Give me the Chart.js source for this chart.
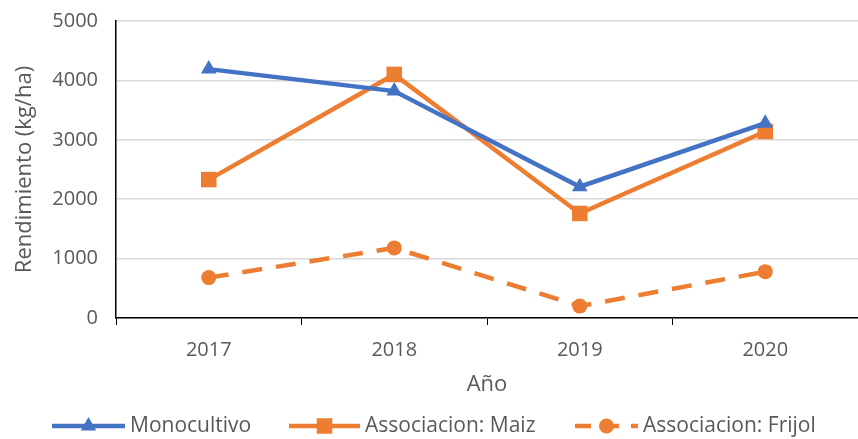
<!DOCTYPE html>
<html>
<head>
<meta charset="utf-8">
<script src="https://cdn.jsdelivr.net/npm/chart.js@4"></script>
<style>
  html, body { margin: 0; padding: 0; background: #fff; }
  #wrap { width: 858px; height: 439px; }
</style>
</head>
<body>
<div id="wrap"><canvas id="chart"></canvas></div>
<script>
const years = ["2017", "2018", "2019", "2020"];
const monocultivo = [4190, 3820, 2210, 3280];
const asocMaiz = [2330, 4100, 1760, 3140];
const asocFrijol = [680, 1180, 200, 780];
const yTicks = [0, 1000, 2000, 3000, 4000, 5000];

const FONT = "'Open Sans', 'Noto Sans', sans-serif";
const TEXT = "#595959";

// legend drawn by hand so each entry shows line + marker like the original
const lineLegend = {
  id: "lineLegend",
  afterDraw(chart) {
    const ctx = chart.ctx;
    const y = 426;
    const xs = [52, 289, 575];
    const lens = [73, 71, 63];
    ctx.save();
    ctx.font = "21px " + FONT;
    ctx.textBaseline = "middle";
    chart.data.datasets.forEach((ds, i) => {
      const x = xs[i];
      ctx.strokeStyle = ds.borderColor;
      ctx.lineWidth = ds.borderWidth;
      ctx.setLineDash(i === 2 ? [16, 12] : []);
      ctx.beginPath();
      ctx.moveTo(x, y);
      ctx.lineTo(x + lens[i], y);
      ctx.stroke();
      ctx.setLineDash([]);
      ctx.fillStyle = ds.pointBackgroundColor;
      Chart.helpers.drawPoint(ctx, { pointStyle: ds.pointStyle, radius: ds.pointRadius, rotation: 0 }, x + lens[i] / 2, y);
      ctx.fillStyle = TEXT;
      ctx.textAlign = "left";
      ctx.fillText(ds.label, x + lens[i] + 5, y);
    });
    ctx.restore();
  }
};

new Chart(document.getElementById("chart"), {
  type: "line",
  data: {
    labels: years,
    datasets: [
      {
        label: "Monocultivo",
        data: monocultivo,
        borderColor: "#4472C4",
        backgroundColor: "#4472C4",
        pointBackgroundColor: "#4472C4",
        pointBorderWidth: 0,
        borderWidth: 4.5,
        pointStyle: "triangle",
        pointRadius: 9,
        tension: 0
      },
      {
        label: "Associacion: Maiz",
        data: asocMaiz,
        borderColor: "#ED7D31",
        backgroundColor: "#ED7D31",
        pointBackgroundColor: "#ED7D31",
        pointBorderWidth: 0,
        borderWidth: 4.5,
        pointStyle: "rect",
        pointRadius: 11,
        tension: 0
      },
      {
        label: "Associacion: Frijol",
        data: asocFrijol,
        borderColor: "#ED7D31",
        backgroundColor: "#ED7D31",
        pointBackgroundColor: "#ED7D31",
        pointBorderWidth: 0,
        borderWidth: 4.5,
        borderDash: [20, 14],
        pointStyle: "circle",
        pointRadius: 7.5,
        tension: 0
      }
    ]
  },
  options: {
    responsive: true,
    maintainAspectRatio: false,
    animation: false,
    layout: { autoPadding: false, padding: { left: 12, right: -4, top: 21, bottom: 41 } },
    plugins: {
      legend: { display: false },
      tooltip: { enabled: false }
    },
    scales: {
      x: {
        offset: true,
        afterFit(axis) {
          axis.height = 80;
          axis.paddingLeft = 0;
          axis.paddingRight = 0;
        },
        grid: {
          offset: true,
          drawOnChartArea: false,
          drawTicks: true,
          tickLength: 7,
          color: "#000"
        },
        border: { color: "#000", width: 1.5 },
        ticks: { color: TEXT, font: { family: FONT, size: 20 }, padding: 13 },
        title: {
          display: true,
          text: "Año",
          color: TEXT,
          font: { family: FONT, size: 22 },
          padding: { top: 4, bottom: 0 }
        }
      },
      y: {
        min: 0,
        max: 5000,
        afterFit(axis) {
          axis.width = 104;
          axis.paddingTop = 0;
          axis.paddingBottom = 0;
        },
        afterBuildTicks(axis) {
          axis.ticks = yTicks.map(v => ({ value: v }));
        },
        grid: { color: "#d9d9d9", lineWidth: 1.5, drawTicks: false },
        border: { color: "#000", width: 1.5 },
        ticks: {
          color: TEXT,
          font: { family: FONT, size: 20 },
          padding: 18,
          callback: v => String(v)
        },
        title: {
          display: true,
          text: "Rendimiento (kg/ha)",
          color: TEXT,
          font: { family: FONT, size: 22 },
          padding: { top: 0, bottom: 0 }
        }
      }
    }
  },
  plugins: [lineLegend]
});
</script>
</body>
</html>
